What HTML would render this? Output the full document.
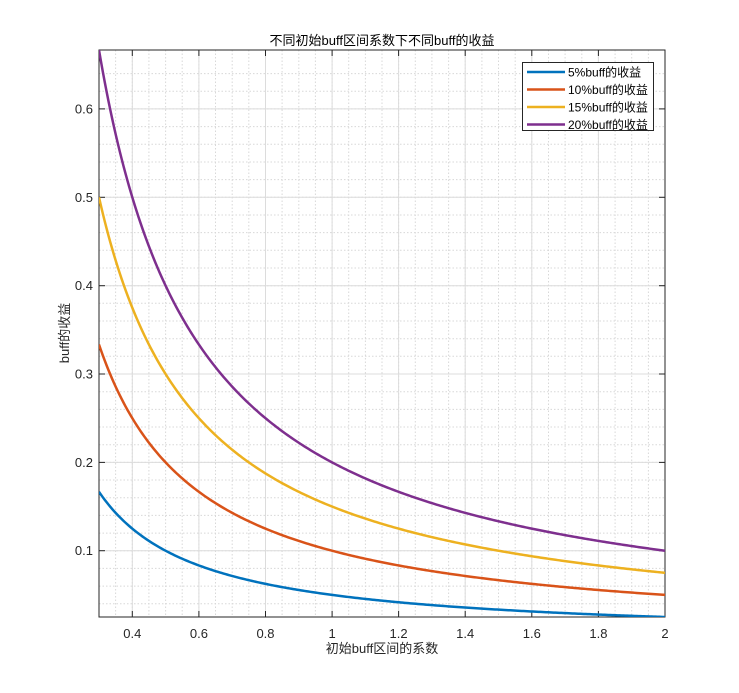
<!DOCTYPE html>
<html><head><meta charset="utf-8"><style>
html,body{margin:0;padding:0;background:#fff;}
svg{display:block;font-family:"Liberation Sans","Noto Sans CJK SC",sans-serif;}
</style></head><body>
<svg id="s" width="739" height="693" xmlns="http://www.w3.org/2000/svg"></svg>
<script>
const s=document.getElementById('s');
const L=99,R=665,T=50,B=617,x0=0.3,x1=2,y0=0.025,y1=0.6667;
const X=v=>L+(v-x0)/(x1-x0)*(R-L), Y=v=>B-(v-y0)/(y1-y0)*(B-T);
let h='<rect x="0" y="0" width="739" height="693" fill="#fff"/>';
h+=`<rect x="${L}" y="${T}" width="${R-L}" height="${B-T}" fill="#fff"/>`;
for(let v=0.35;v<2;v+=0.05){const x=X(v).toFixed(1);h+=`<line x1="${x}" y1="${T}" x2="${x}" y2="${B}" stroke="#d8d8d8" stroke-dasharray="1.5,2" stroke-width="1"/>`;}
for(let v=0.04;v<0.66;v+=0.02){const y=Y(v).toFixed(1);h+=`<line x1="${L}" y1="${y}" x2="${R}" y2="${y}" stroke="#d8d8d8" stroke-dasharray="1.5,2" stroke-width="1"/>`;}
for(let v=0.4;v<=2.001;v+=0.2){const x=X(v).toFixed(1);h+=`<line x1="${x}" y1="${T}" x2="${x}" y2="${B}" stroke="#dcdcdc"/>`;h+=`<line x1="${x}" y1="${B}" x2="${x}" y2="${B-6}" stroke="#262626"/><line x1="${x}" y1="${T}" x2="${x}" y2="${T+6}" stroke="#262626"/>`;
h+=`<text x="${x}" y="${B+21}" font-size="13" text-anchor="middle" fill="#262626">${(Math.round(v*10)/10).toString()}</text>`;}
for(let i=1;i<=6;i++){const v=i/10,y=Y(v).toFixed(1);h+=`<line x1="${L}" y1="${y}" x2="${R}" y2="${y}" stroke="#dcdcdc"/>`;h+=`<line x1="${L}" y1="${y}" x2="${L+6}" y2="${y}" stroke="#262626"/><line x1="${R}" y1="${y}" x2="${R-6}" y2="${y}" stroke="#262626"/>`;
h+=`<text x="${L-6}" y="${+y+4.5}" font-size="13" text-anchor="end" fill="#262626">${v.toFixed(1)}</text>`;}
h+=`<rect x="${L}" y="${T}" width="${R-L}" height="${B-T}" fill="none" stroke="#262626"/>`;
const cols=['#0072BD','#D95319','#EDB120','#7E2F8E'],ps=[0.05,0.1,0.15,0.2];
h+=`<svg x="${L}" y="${T}" width="${R-L}" height="${B-T}" overflow="hidden"><g transform="translate(${-L},${-T})">`;
ps.forEach((p,i)=>{let d='';for(let k=0;k<=300;k++){const v=x0+(x1-x0)*k/300;d+=(k?'L':'M')+X(v).toFixed(2)+' '+Y(p/v).toFixed(2);}h+=`<path d="${d}" fill="none" stroke="${cols[i]}" stroke-width="2.5"/>`;});
h+='</g></svg>';
h+=`<rect x="522.5" y="62.5" width="131" height="68" fill="#fff" stroke="#262626"/>`;
const labs=['5%buff的收益','10%buff的收益','15%buff的收益','20%buff的收益'];
labs.forEach((t,i)=>{const y=72+i*17.5;h+=`<line x1="527" y1="${y}" x2="565" y2="${y}" stroke="${cols[i]}" stroke-width="2.5"/><text x="568" y="${y+4.5}" font-size="12" fill="#000">${t}</text>`;});
h+=`<text x="382" y="45" font-size="13" text-anchor="middle" fill="#000">不同初始buff区间系数下不同buff的收益</text>`;
h+=`<text x="382" y="653" font-size="13" text-anchor="middle" fill="#262626">初始buff区间的系数</text>`;
h+=`<text transform="translate(69,333) rotate(-90)" font-size="13" text-anchor="middle" fill="#262626">buff的收益</text>`;
s.innerHTML=h;
</script>
</body></html>
